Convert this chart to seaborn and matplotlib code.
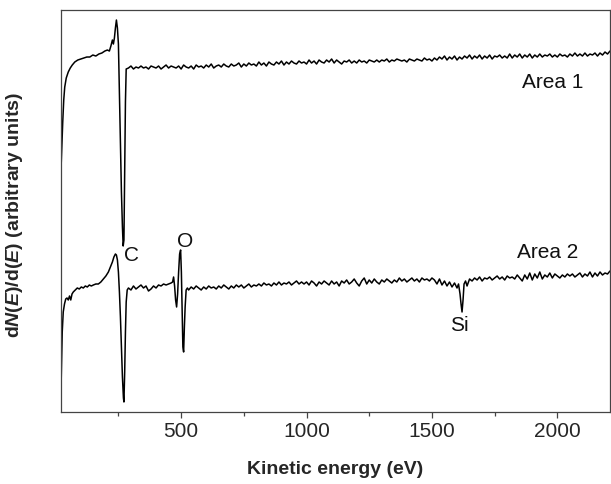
import numpy as np
import pandas as pd
import matplotlib
matplotlib.use("Agg")
import matplotlib.pyplot as plt
from matplotlib.ticker import MultipleLocator
import seaborn as sns

# Espectros Auger (derivada), unidades arbitrarias
# Area 1: zona inicial y pico de C
area1_e_start = [20, 24, 28, 32, 36, 42, 50, 58, 66, 76, 88, 100, 112, 124, 136, 148,
                 160, 172, 184, 196, 206, 214, 220, 226, 230, 234, 238, 242, 246, 250,
                 254, 258, 262, 266, 269, 272, 275, 278, 281]
area1_y_start = [235, 262, 290, 312, 325, 334, 340, 344, 347, 350, 352, 353, 354, 355, 355, 357,
                 356, 358, 359, 361, 362, 361, 366, 372, 368, 374, 384, 392, 384, 368,
                 320, 270, 220, 185, 166, 172, 240, 310, 343]
# Area 1: fondo con ruido, cada 10 eV desde 290 eV
area1_y_flat = [
    344, 346, 343, 345, 344, 346, 344, 345, 343, 346,
    345, 344, 346, 343, 345, 347, 344, 346, 345, 344,
    346, 343, 347, 345, 344, 346, 343, 347, 345, 346,
    344, 347, 345, 348, 344, 346, 347, 345, 348, 346,
    345, 348, 346, 347, 349, 345, 348, 346, 349, 347,
    348, 346, 350, 347, 349, 346, 350, 348, 347, 350,
    348, 351, 347, 350, 348, 351, 349, 348, 351, 349,
    350, 348, 352, 349, 351, 348, 352, 350, 349, 352,
    350, 353, 349, 352, 350, 348, 351, 350, 352, 349,
    351, 349, 352, 350, 351, 349, 352, 351, 350, 352,
    350, 352, 351, 353, 350, 352, 351, 353, 352, 351,
    352, 350, 353, 352, 351, 353, 352, 351, 354, 352,
    353, 351, 354, 352, 355, 353, 356, 352, 355, 353,
    356, 352, 355, 353, 356, 354, 357, 353, 356, 354,
    357, 353, 356, 354, 357, 353, 356, 355, 357, 354,
    356, 354, 358, 354, 357, 355, 358, 354, 357, 355,
    358, 354, 357, 355, 358, 355, 357, 356, 358, 355,
    357, 355, 358, 356, 357, 355, 358, 356, 359, 356,
    358, 356, 359, 356, 358, 357, 359, 356, 359, 357,
    360, 358, 361]
area1_e_flat = list(range(290, 290 + 10 * len(area1_y_flat), 10))

# Area 2: zona inicial y pico de C
area2_e_start = [20, 23, 26, 30, 35, 40, 45, 50, 55, 60, 65, 70, 78, 86, 94, 102, 110, 118,
                 126, 134, 142, 150, 160, 170, 180, 190, 200, 210, 218, 226, 232, 238, 242,
                 246, 250, 254, 258, 262, 266, 270, 272, 275, 278, 281, 285]
area2_y_start = [10, 45, 80, 100, 108, 113, 114, 112, 116, 112, 118, 120, 122, 124, 123, 125, 124, 126,
                 125, 127, 126, 127, 128, 128, 130, 133, 136, 140, 145, 150, 155, 158, 157,
                 152, 140, 120, 95, 65, 35, 14, 10, 40, 80, 110, 122]
# Area 2: fondo entre C y O
area2_e_mid1 = list(range(290, 470, 10))
area2_y_mid1 = [124, 122, 126, 123, 125, 127, 124, 126, 121, 123, 126, 124, 127, 126, 128, 127, 128, 129]
# Area 2: pico de O
area2_e_oxy = [466, 470, 474, 478, 482, 486, 490, 494, 498, 501, 504, 507, 510, 513, 516, 520, 525]
area2_y_oxy = [130, 135, 126, 112, 105, 118, 140, 158, 162, 140, 100, 65, 60, 85, 105, 122, 124]
# Area 2: fondo entre O y Si
area2_y_mid2 = [
    122, 125, 123, 126, 124, 122, 125, 123, 126, 124,
    125, 123, 126, 124, 127, 125, 123, 126, 124, 127,
    125, 127, 124, 126, 128, 125, 127, 126, 128, 126,
    129, 127, 128, 126, 129, 127, 130, 127, 129, 128,
    130, 127, 129, 131, 128, 130,
    128, 130, 127, 131, 129, 126, 130, 128, 131, 129,
    127, 131, 128, 130, 126, 131, 129, 132, 128, 130,
    133, 129, 126, 131, 134, 128, 132, 129, 133, 130,
    128, 132, 130, 133, 131, 129, 132, 130, 134, 131,
    133, 130, 132, 134, 131, 133, 130, 134, 132, 133,
    131, 134, 132, 128, 133, 127, 131, 126, 130, 125]
area2_e_mid2 = list(range(530, 530 + 10 * len(area2_y_mid2), 10))
# Area 2: pico de Si
area2_e_si = [1590, 1600, 1606, 1612, 1616, 1620, 1624, 1628, 1634, 1640]
area2_y_si = [129, 124, 128, 118, 108, 100, 112, 128, 131, 126]
# Area 2: fondo final
area2_y_end = [
    133, 131, 134, 132, 135, 131, 134, 133, 135, 132,
    134, 136, 133, 135, 132, 136, 134, 135, 133, 137,
    134, 131, 137, 133, 139, 132, 138, 134, 140, 133,
    137, 135, 139, 134, 138, 136, 134, 137, 135, 138,
    136, 138, 135, 137, 139, 135, 138, 136, 140, 135,
    139, 136, 140, 137, 139, 138, 141]
area2_e_end = list(range(1650, 1650 + 10 * len(area2_y_end), 10))

df1 = pd.DataFrame({"energia": area1_e_start + area1_e_flat,
                    "senal": area1_y_start + area1_y_flat})
df2 = pd.DataFrame({"energia": area2_e_start + area2_e_mid1 + area2_e_oxy + area2_e_mid2 + area2_e_si + area2_e_end,
                    "senal": area2_y_start + area2_y_mid1 + area2_y_oxy + area2_y_mid2 + area2_y_si + area2_y_end})

# Etiquetas de texto
labels = [("C", 302, 156), ("O", 515, 170), ("Si", 1608, 86),
          ("Area 1", 1980, 330), ("Area 2", 1961, 159)]

sns.set_theme(style="white")
plt.rcParams["font.family"] = ["Liberation Sans", "DejaVu Sans"]
plt.rcParams["mathtext.fontset"] = "custom"
plt.rcParams["mathtext.it"] = "Liberation Sans:italic:bold"
plt.rcParams["mathtext.rm"] = "Liberation Sans:bold"

fig = plt.figure(figsize=(6.11, 4.84), dpi=100)
ax = fig.add_axes([0.0998, 0.1488, 0.8986, 0.8305])

sns.lineplot(data=df1, x="energia", y="senal", ax=ax, color="black", lw=1.1,
             sort=False, estimator=None)
sns.lineplot(data=df2, x="energia", y="senal", ax=ax, color="black", lw=1.1,
             sort=False, estimator=None)

for txt, x, y in labels:
    ax.text(x, y, txt, fontsize=15, ha="center", va="center", color="#111111")

ax.set_xlim(21, 2210)
ax.set_ylim(0, 402)
ax.set_yticks([])
ax.xaxis.set_major_locator(MultipleLocator(500))
ax.xaxis.set_minor_locator(MultipleLocator(250))
ax.tick_params(axis="x", which="major", direction="out", length=4.5, width=0.9,
               color="#444444", labelsize=15, pad=2.5, bottom=True)
ax.tick_params(axis="x", which="minor", direction="out", length=3, width=0.9,
               color="#444444", bottom=True)
ax.set_xticks([500, 1000, 1500, 2000])

for s in ax.spines.values():
    s.set_color("#444444")
    s.set_linewidth(0.9)

ax.set_xlabel("Kinetic energy (eV)", fontsize=14, fontweight="bold")
ax.set_ylabel(r"d$N$($E$)/d($E$) (arbitrary units)", fontsize=14, fontweight="bold")
ax.xaxis.set_label_coords(0.5, -0.123)
ax.yaxis.set_label_coords(-0.066, 0.49)

fig.savefig("out.png", dpi=100)
